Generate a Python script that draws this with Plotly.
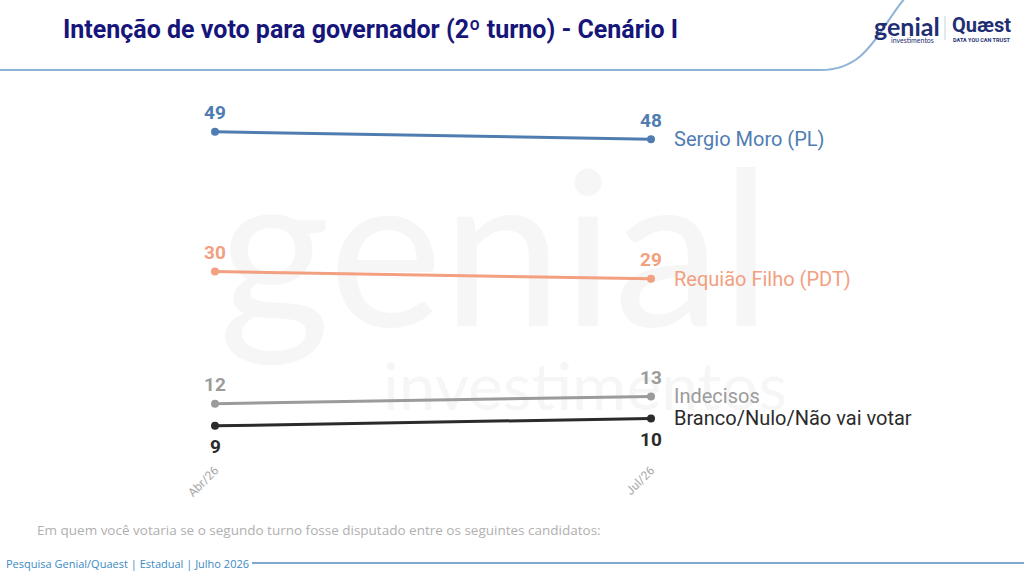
import plotly.graph_objects as go

# ---- data ----
periods = ["Abr/26", "Jul/26"]
names = ["Sergio Moro (PL)", "Requião Filho (PDT)", "Indecisos", "Branco/Nulo/Não vai votar"]
moro = [49, 48]
requiao = [30, 29]
indecisos = [12, 13]
branco = [9, 10]
series_values = [moro, requiao, indecisos, branco]
colors = ["#4F7DB2", "#F2A07F", "#9B9B9B", "#2B2B2B"]
label_side = [1, 1, 1, -1]   # 1 = value label above the point, -1 = below

W, H = 1024, 574
ML, MR, MT, MB = 215, 373, 100, 114
PW, PH = W - ML - MR, H - MT - MB

def px(x):
    return (x - ML) / PW

def py(y):
    return (H - MB - y) / PH

xs = list(range(len(periods)))

fig = go.Figure()

y_lo, y_hi = 4.35, 53.33
def dv(ypix):
    return y_lo + (H - MB - ypix) / PH * (y_hi - y_lo)
def dx(xpix):
    return (xpix - ML) / PW * (xs[-1] - xs[0])

# faint watermark (drawn first so lines sit on top)
fig.add_trace(go.Scatter(
    x=[dx(495), dx(585)], y=[dv(272), dv(393)], mode="text",
    text=["genial", "investimentos"],
    textfont=dict(family="Lato", size=[215, 66], color="#F6F6F6"),
    textposition="middle center", hoverinfo="skip", showlegend=False, cliponaxis=False))

for nm, vals, col, side in zip(names, series_values, colors, label_side):
    fig.add_trace(go.Scatter(
        x=xs, y=vals, mode="lines+markers", name=nm,
        line=dict(color=col, width=3), marker=dict(color=col, size=8),
        cliponaxis=False, showlegend=False, hoverinfo="skip"))
    for xi, v in zip(xs, vals):
        fig.add_annotation(x=xi, y=v, xref="x", yref="y", text=f"<b>{v}</b>",
                           showarrow=False, xanchor="center", yanchor="middle",
                           yshift=19 * side if side > 0 else -21,
                           font=dict(family="Roboto", size=19, color=col))
    fig.add_annotation(x=xs[-1], y=vals[-1], xref="x", yref="y", text=nm,
                       showarrow=False, xanchor="left", yanchor="middle", xshift=21,
                       font=dict(family="Roboto", size=20, color=col))

fig.update_xaxes(range=[xs[0], xs[-1]], tickvals=xs, ticktext=periods, tickangle=-45,
                 showgrid=True, gridcolor="#EDEDED", gridwidth=1, zeroline=False,
                 showline=False, ticks="", tickfont=dict(family="Roboto", size=12, color="#A8A8A8"),
                 fixedrange=True)
fig.update_yaxes(range=[y_lo, y_hi], visible=False, fixedrange=True)

# title
fig.add_annotation(xref="paper", yref="paper", x=px(61), y=py(29),
                   text="<b>Intenção de voto para governador (2º turno) - Cenário I</b>",
                   showarrow=False, xanchor="left", yanchor="middle",
                   font=dict(family="Roboto", size=25, color="#16157A"))

# header line with curve
path = (f"M {px(0)} {py(70)} L {px(820)} {py(70)} "
        f"C {px(868)} {py(70)} {px(878)} {py(30)} {px(905)} {py(-2)}")
fig.add_shape(type="path", path=path, xref="paper", yref="paper",
              line=dict(color="#8DB3D6", width=2))

# logos (as text)
fig.add_annotation(xref="paper", yref="paper", x=px(872), y=py(26), text="<b>genial</b>",
                   showarrow=False, xanchor="left", yanchor="middle",
                   font=dict(family="Lato", size=25, color="#1F2F73"))
fig.add_annotation(xref="paper", yref="paper", x=px(889), y=py(40), text="investimentos",
                   showarrow=False, xanchor="left", yanchor="middle",
                   font=dict(family="Lato", size=7, color="#1F2F73"))
fig.add_shape(type="line", xref="paper", yref="paper", x0=px(945), x1=px(945), y0=py(16), y1=py(40),
              line=dict(color="#C9D3E3", width=1))
fig.add_annotation(xref="paper", yref="paper", x=px(950), y=py(25), text="<b>Quæst</b>",
                   showarrow=False, xanchor="left", yanchor="middle",
                   font=dict(family="Roboto", size=20, color="#1F2F73"))
fig.add_annotation(xref="paper", yref="paper", x=px(951), y=py(40), text="<b>DATA YOU CAN TRUST</b>",
                   showarrow=False, xanchor="left", yanchor="middle",
                   font=dict(family="Roboto", size=5.5, color="#1F2F73"))

# footer
fig.add_annotation(xref="paper", yref="paper", x=px(35), y=py(530),
                   text="Em quem você votaria se o segundo turno fosse disputado entre os seguintes candidatos:",
                   showarrow=False, xanchor="left", yanchor="middle",
                   font=dict(family="Open Sans", size=13.5, color="#B0B0B0"))
fig.add_annotation(xref="paper", yref="paper", x=px(4), y=py(563),
                   text="Pesquisa Genial/Quaest | Estadual | Julho 2026",
                   showarrow=False, xanchor="left", yanchor="middle",
                   font=dict(family="Open Sans", size=11, color="#3C8AC4"))
fig.add_shape(type="line", xref="paper", yref="paper", x0=px(252), x1=px(1024), y0=py(563), y1=py(563),
              line=dict(color="#7EA8CF", width=2))

fig.update_layout(width=W, height=H, margin=dict(l=ML, r=MR, t=MT, b=MB),
                  paper_bgcolor="white", plot_bgcolor="white", showlegend=False)

fig.write_html("out.html", config={"displayModeBar": False},
               post_script="document.body.style.margin='0';")
